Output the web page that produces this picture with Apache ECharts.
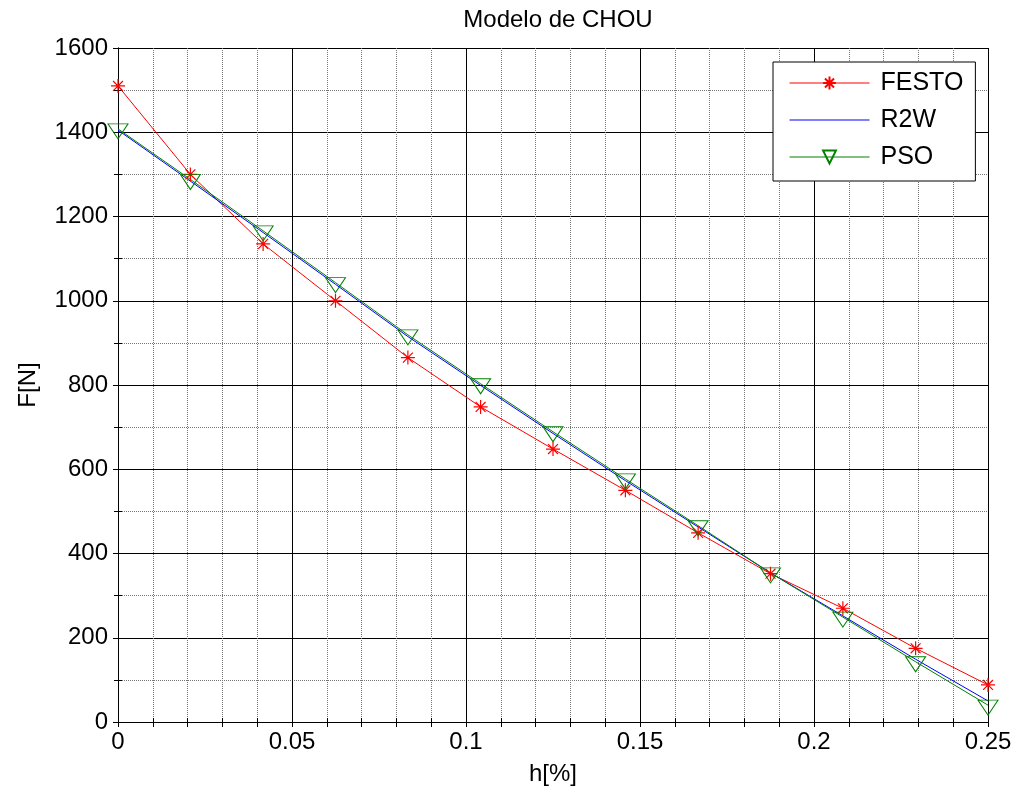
<!DOCTYPE html>
<html>
<head>
<meta charset="utf-8">
<title>Modelo de CHOU</title>
<script src="https://cdn.jsdelivr.net/npm/echarts@6/dist/echarts.min.js"></script>
<style>
  html, body { margin: 0; padding: 0; background: #fff; }
  #chart { width: 1016px; height: 794px; }
</style>
</head>
<body>
<div id="chart"></div>
<script>
// Deformation h[%] and force F[N] for the CHOU model
const hValues = [0, 0.0208, 0.0417, 0.0625, 0.0833, 0.1042, 0.125, 0.1458, 0.1667, 0.1875, 0.2083, 0.2292, 0.25];
const festo = [1510, 1300, 1135, 1000, 865, 748, 648, 550, 449, 352, 270, 175, 88];
const r2w   = [1405, 1284, 1162, 1039, 915, 799, 685, 573, 463, 354, 252, 149, 50];
const pso   = [1408, 1288, 1166, 1043, 919, 803, 689, 577, 466, 354, 249, 143, 40];
const seriesNames = ['FESTO', 'R2W', 'PSO'];

const FONT = 'Liberation Sans, Arial, sans-serif';

const pairs = (ys) => hValues.map((x, i) => [x, ys[i]]);

// MATLAB-like markers: asterisk (+ and x) and open down-pointing triangle
const asteriskPath = 'path://M6,0 L6,12 M0,6 L12,6 M1.76,1.76 L10.24,10.24 M1.76,10.24 L10.24,1.76';
const triDownPath = 'path://M0,0 L20,0 L10,15 Z';

const chart = echarts.init(document.getElementById('chart'), null, { renderer: 'canvas' });

const boxAxisCommon = {
  axisLine: { show: true, lineStyle: { color: '#000', width: 1 } },
  axisLabel: { show: false },
  splitLine: { show: false },
  minorSplitLine: { show: false }
};

chart.setOption({
  animation: false,
  backgroundColor: '#fff',
  title: {
    text: 'Modelo de CHOU',
    left: 553,
    top: 3,
    textAlign: 'center',
    textStyle: { fontFamily: FONT, fontSize: 24, fontWeight: 'normal', color: '#000' }
  },
  grid: { left: 118, right: 28, top: 48, bottom: 72, containLabel: false },
  legend: {
    orient: 'vertical',
    left: 773,
    top: 62,
    data: [
      { name: seriesNames[0] },
      // the model curve has no markers: hide the legend symbol, keep its line
      { name: seriesNames[1], itemStyle: { opacity: 0 } },
      { name: seriesNames[2] }
    ],
    itemWidth: 80,
    itemHeight: 16,
    itemGap: 11,
    padding: [8, 12, 11, 16],
    backgroundColor: '#fff',
    borderColor: '#000',
    borderWidth: 1,
    borderRadius: 0,
    selectedMode: false,
    lineStyle: { width: 1 },
    textStyle: { fontFamily: FONT, fontSize: 25, color: '#000', lineHeight: 26, padding: [0, 0, 0, 6] }
  },
  xAxis: [
    {
      type: 'value',
      position: 'bottom',
      min: 0,
      max: 0.25,
      interval: 0.05,
      name: 'h[%]',
      nameLocation: 'middle',
      nameGap: 40,
      nameTextStyle: { fontFamily: FONT, fontSize: 24, color: '#000' },
      axisLine: { show: true, onZero: false, lineStyle: { color: '#000', width: 1 } },
      axisTick: { show: true, inside: true, length: 8, lineStyle: { color: '#000' } },
      minorTick: { show: true, splitNumber: 5, length: 4, lineStyle: { color: '#000' } },
      axisLabel: {
        fontFamily: FONT, fontSize: 24, color: '#000', margin: 8,
        formatter: (v) => String(+v.toFixed(2))
      },
      splitLine: { show: true, lineStyle: { color: '#000', width: 1 } },
      minorSplitLine: { show: true, lineStyle: { color: '#777', width: 1, type: 'dotted' } }
    },
    Object.assign({
      type: 'value',
      position: 'top',
      min: 0,
      max: 0.25,
      interval: 0.05,
      axisTick: { show: true, inside: true, length: 5, lineStyle: { color: '#000' } },
      minorTick: { show: true, splitNumber: 5, length: 5, lineStyle: { color: '#000' } }
    }, boxAxisCommon)
  ],
  yAxis: [
    {
      type: 'value',
      position: 'left',
      min: 0,
      max: 1600,
      interval: 200,
      name: 'F[N]',
      nameLocation: 'middle',
      nameGap: 78,
      nameTextStyle: { fontFamily: FONT, fontSize: 24, color: '#000' },
      axisLine: { show: true, onZero: false, lineStyle: { color: '#000', width: 1 } },
      axisTick: { show: true, inside: true, length: 8, lineStyle: { color: '#000' } },
      minorTick: { show: true, splitNumber: 2, length: 4, lineStyle: { color: '#000' } },
      axisLabel: {
        fontFamily: FONT, fontSize: 24, color: '#000', margin: 10,
        formatter: (v) => String(v)
      },
      splitLine: { show: true, lineStyle: { color: '#000', width: 1 } },
      minorSplitLine: { show: true, lineStyle: { color: '#777', width: 1, type: 'dotted' } }
    },
    Object.assign({
      type: 'value',
      position: 'right',
      min: 0,
      max: 1600,
      interval: 200,
      axisTick: { show: true, inside: true, length: 5, lineStyle: { color: '#000' } },
      minorTick: { show: true, splitNumber: 2, length: 4, lineStyle: { color: '#000' } }
    }, boxAxisCommon)
  ],
  series: [
    {
      name: seriesNames[0],
      type: 'line',
      data: pairs(festo),
      xAxisIndex: 0,
      yAxisIndex: 0,
      showAllSymbol: true,
      symbol: asteriskPath,
      symbolSize: 14,
      lineStyle: { color: '#ff0000', width: 1 },
      itemStyle: { color: 'rgba(0,0,0,0)', borderColor: '#ff0000', borderWidth: 1.2 },
      emphasis: { disabled: true }
    },
    {
      name: seriesNames[1],
      type: 'line',
      data: pairs(r2w),
      xAxisIndex: 0,
      yAxisIndex: 0,
      showSymbol: false,
      symbol: 'none',
      lineStyle: { color: '#0000ff', width: 1 },
      itemStyle: { color: '#0000ff' },
      emphasis: { disabled: true }
    },
    {
      name: seriesNames[2],
      type: 'line',
      data: pairs(pso),
      xAxisIndex: 0,
      yAxisIndex: 0,
      showAllSymbol: true,
      symbol: triDownPath,
      symbolSize: [20, 15],
      symbolOffset: [0, 2.5],
      lineStyle: { color: '#008000', width: 1 },
      itemStyle: { color: 'rgba(0,0,0,0)', borderColor: '#008000', borderWidth: 1 },
      emphasis: { disabled: true }
    }
  ]
});
</script>
</body>
</html>
